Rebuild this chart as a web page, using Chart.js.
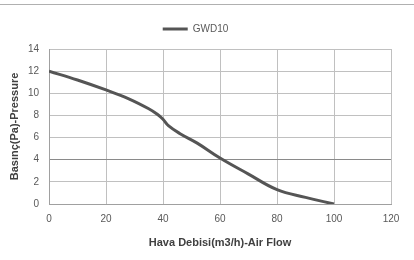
<!DOCTYPE html>
<html><head><meta charset="utf-8">
<script src="https://cdn.jsdelivr.net/npm/chart.js@4"></script>
<style>
html,body{margin:0;padding:0;background:#fff;}
#wrap{position:relative;width:414px;height:260px;}
#topline{position:absolute;left:0;top:4px;width:414px;height:0;border-top:1px solid #b0b0b0;}
canvas{position:absolute;left:0;top:0;}
</style></head>
<body><div id="wrap"><div id="topline"></div><canvas id="c" width="414" height="260"></canvas></div>
<script>
const seriesName = "GWD10";
const airFlow = [0, 10, 20, 28, 35, 38, 40, 42, 46, 52, 60, 70, 80, 90, 100];
const pressure = [12, 11.2, 10.3, 9.5, 8.6, 8.1, 7.65, 7.05, 6.35, 5.5, 4.15, 2.7, 1.3, 0.6, 0];
const xTitle = "Hava Debisi(m3/h)-Air Flow";
const yTitle = "Basınç(Pa)-Pressure";

const tickFont = {family: "Liberation Sans", size: 10};
const titleFont = {family: "Liberation Sans", size: 11, weight: "bold"};

const legendSpacer = {
  id: 'legendSpacer',
  afterInit(chart) {
    const lg = chart.legend;
    if (!lg) return;
    const orig = lg.fit;
    lg.fit = function() { orig.call(this); this.height += 5; };
  }
};

new Chart(document.getElementById('c'), {
  type: 'line',
  data: {
    datasets: [{
      label: seriesName,
      data: airFlow.map((x, i) => ({x: x, y: pressure[i]})),
      borderColor: '#555555',
      backgroundColor: '#555555',
      borderWidth: 3,
      pointRadius: 0,
      tension: 0.4,
      fill: false
    }]
  },
  plugins: [legendSpacer],
  options: {
    responsive: false,
    animation: false,
    devicePixelRatio: 1,
    layout: {padding: {top: 6, right: 23, left: 0, bottom: 0}},
    plugins: {
      legend: {
        display: true,
        position: 'top',
        labels: {
          usePointStyle: true,
          pointStyle: 'line',
          pointStyleWidth: 25,
          boxWidth: 25,
          color: '#595959',
          font: {family: "Liberation Sans", size: 10},
          padding: 18
        }
      },
      tooltip: {enabled: false}
    },
    scales: {
      x: {
        type: 'linear',
        min: 0, max: 120,
        ticks: {stepSize: 20, color: '#595959', font: tickFont, padding: 9},
        grid: {color: '#c0c0c0', lineWidth: 1, drawTicks: false},
        border: {color: '#a0a0a0'},
        title: {display: true, text: xTitle, color: '#404040', font: titleFont, padding: {top: 8, bottom: 10}},
        afterFit: s => { s.height = 56; }
      },
      y: {
        min: 0, max: 14,
        ticks: {stepSize: 2, color: '#595959', font: tickFont, padding: 10},
        grid: {color: ctx => (ctx.tick && ctx.tick.value === 4) ? '#8a8a8a' : '#c0c0c0', lineWidth: 1, drawTicks: false},
        border: {color: '#a0a0a0'},
        title: {display: true, text: yTitle, color: '#404040', font: titleFont, padding: {top: 8, bottom: 4}},
        afterFit: s => { s.width = 49; }
      }
    }
  }
});
</script></body></html>
